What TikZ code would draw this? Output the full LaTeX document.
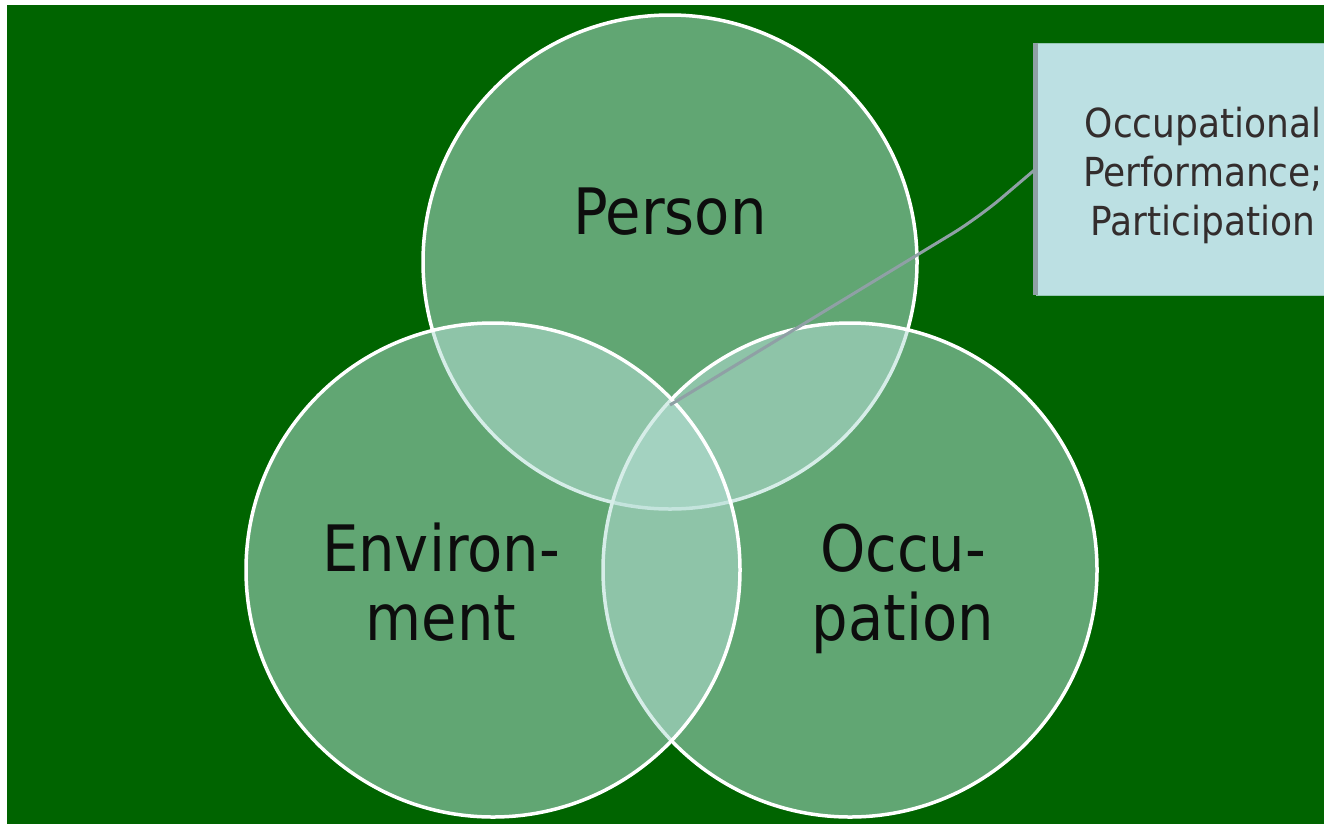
\documentclass[tikz,border=0pt]{standalone}
\usepackage{fontspec}
\usepackage{xcolor}
\usepackage{tikz}
\usetikzlibrary{positioning}
\setmainfont{DejaVu Sans Condensed}

\definecolor{slidegreen}{RGB}{0,100,0}
\definecolor{vennfill}{RGB}{181,222,213}
\definecolor{calloutfill}{RGB}{188,224,227}
\definecolor{calloutline}{RGB}{143,160,165}
\definecolor{calloutink}{RGB}{51,45,45}

\tikzset{
  venn/.style={circle, draw=white, line width=3.5pt, fill=vennfill, fill opacity=0.54,
    minimum size=494pt, inner sep=0pt},
  vennlabel/.style={font=\fontsize{64}{69}\selectfont, text=black!95, align=center},
  callout/.style={rectangle, fill=calloutfill, draw=calloutfill!80!slidegreen, line width=0.8pt,
    minimum width=328pt, minimum height=252pt},
  callouttext/.style={align=center, text=calloutink, font=\fontsize{40}{49}\selectfont}
}

\begin{document}
\begin{tikzpicture}[x=1pt,y=-1pt]
\useasboundingbox (0,0) rectangle (1324,825);
\clip (0,0) rectangle (1324,825);
\fill[slidegreen] (7,5) rectangle (1324,824);

% the three circles
\node[venn] (person) at (670,262) {};
\node[venn] (occupation) at (850,570) {};
\node[venn] (environment) at (493,570) {};

\node[vennlabel] (personlabel) at (670,212) {Person};
\node[vennlabel] (envlabel) at (441,582) {Environ-\\ment};
\node[vennlabel] (occlabel) at (903,589) {Occu-\\pation};

% callout
\node[callout] (outcome) at (1200,169) {};
\node[callouttext] (outcometext) at (1203,175) {Occupational\\Performance;\\Participation};
\draw[calloutline, line width=5pt] (outcome.north west) -- (outcome.south west);
\coordinate (core) at (670,405);
\coordinate (bend) at (978,218);
\draw[calloutline, line width=3pt, rounded corners=30pt] (core) -- (bend) -- (outcome.west);
\end{tikzpicture}
\end{document}
